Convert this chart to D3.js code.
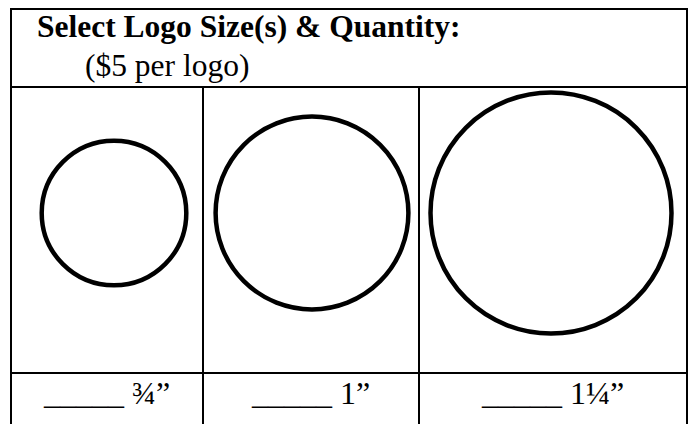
<!DOCTYPE html>
<html><head><meta charset="utf-8">
<script src="https://cdn.jsdelivr.net/npm/d3@7"></script>
<style>
html,body{margin:0;padding:0;background:#fff;}
svg{display:block;}
text{font-family:"Liberation Serif","Times New Roman",serif;fill:#000;}
</style></head>
<body>
<script>
// ---- data ----
const title = "Select Logo Size(s) & Quantity:";
const subtitle = "($5 per logo)";
const sizeLabels = ["¾", "1", "1¼"];
const sizeInches = [0.75, 1, 1.25];
const blank = "_____";

// ---- layout ----
const W = 689, H = 424;
const colEdges = [11, 203, 419, 687];
const circleOffsets = [7, 1, -2];
const rowEdges = {top: 9, header: 87, label: 373, bottom: 440};
const circleY = 213;

const svg = d3.select("body").append("svg").attr("width", W).attr("height", H);

const r = d3.scaleLinear().domain([0, 1.25]).range([0, 120.5]);
const cx = i => (colEdges[i] + colEdges[i + 1]) / 2;

const lineStyle = s => s.attr("stroke", "#000").attr("stroke-width", 2).attr("fill", "none");

// outer frame & grid
svg.append("rect").attr("x", colEdges[0]).attr("y", rowEdges.top)
  .attr("width", colEdges[3] - colEdges[0]).attr("height", rowEdges.bottom - rowEdges.top)
  .call(lineStyle);
svg.append("line").attr("x1", colEdges[0]).attr("x2", colEdges[3])
  .attr("y1", rowEdges.header).attr("y2", rowEdges.header).call(lineStyle);
svg.append("line").attr("x1", colEdges[0]).attr("x2", colEdges[3])
  .attr("y1", rowEdges.label).attr("y2", rowEdges.label).call(lineStyle);
svg.selectAll("line.col").data([1, 2]).join("line").attr("class", "col")
  .attr("x1", d => colEdges[d]).attr("x2", d => colEdges[d])
  .attr("y1", rowEdges.header).attr("y2", rowEdges.bottom).call(lineStyle);

// header text
svg.append("text").attr("x", 37).attr("y", 37)
  .attr("font-size", 31.5).attr("font-weight", "bold").text(title);
svg.append("text").attr("x", 85).attr("y", 76)
  .attr("font-size", 31.5).text(subtitle);

// circles
svg.selectAll("circle").data(sizeInches).join("circle")
  .attr("cx", (d, i) => cx(i) + circleOffsets[i]).attr("cy", circleY).attr("r", d => r(d))
  .attr("fill", "none").attr("stroke", "#000").attr("stroke-width", 4.5);

// labels
svg.selectAll("text.lbl").data(sizeLabels).join("text").attr("class", "lbl")
  .attr("x", (d, i) => cx(i)).attr("y", 404).attr("text-anchor", "middle")
  .attr("font-size", 32).text(d => blank + " " + d + "\u201D");
</script>
</body></html>
